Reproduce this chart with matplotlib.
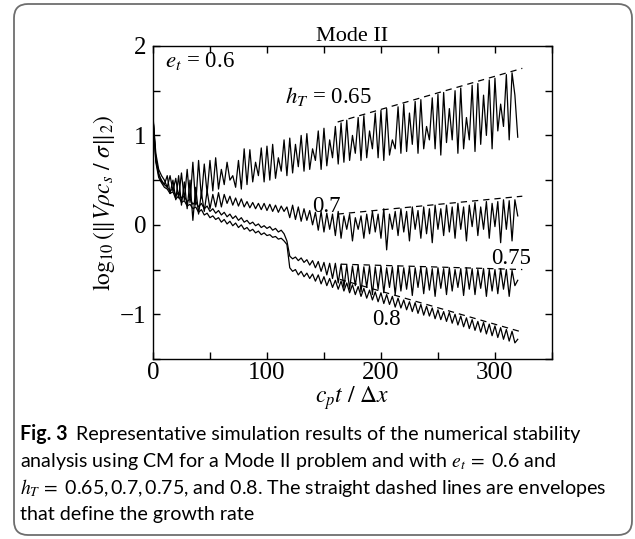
import matplotlib
matplotlib.use('Agg')
import numpy as np
import matplotlib.pyplot as plt
from matplotlib import font_manager
from matplotlib.patches import FancyBboxPatch
from matplotlib.transforms import IdentityTransform

# sample grid along c_p t / dx (every 2.5)
t = np.arange(0, 320.1, 2.5)

# log10 norm, values, one row = 20 units of c_p t/dx
h065 = [1.22, 0.80, 0.62, 0.55, 0.50, 0.42, 0.55, 0.38,
        0.52, 0.30, 0.58, 0.28, 0.62, 0.25, 0.70, 0.22,
        0.72, 0.30, 0.68, 0.35, 0.72, 0.38, 0.75, 0.40,
        0.62, 0.45, 0.70, 0.50, 0.55, 0.42, 0.72, 0.40,
        0.85, 0.45, 0.84, 0.48, 0.70, 0.55, 0.86, 0.48,
        0.88, 0.50, 0.90, 0.52, 0.75, 0.60, 0.95, 0.55,
        0.97, 0.58, 0.90, 0.65, 1.00, 0.60, 1.02, 0.62,
        0.85, 0.72, 1.05, 0.62, 1.08, 0.66, 0.95, 0.75,
        1.10, 0.68, 1.14, 0.70, 1.17, 0.72, 1.00, 0.80,
        1.20, 0.72, 1.22, 0.75, 1.05, 0.85, 1.25, 0.75,
        1.28, 0.72, 1.30, 0.78, 0.95, 0.85, 1.32, 0.80,
        1.35, 0.82, 1.25, 0.90, 1.38, 0.80, 1.40, 0.85,
        1.10, 0.95, 1.42, 0.85, 1.46, 0.78, 1.48, 0.92,
        1.30, 0.95, 1.50, 0.80, 1.53, 0.85, 1.20, 0.95,
        1.56, 0.82, 1.58, 0.90, 1.45, 1.00, 1.62, 0.85,
        1.64, 1.05, 1.35, 1.10, 1.68, 0.95, 1.70, 1.45,
        0.98]

h070 = [1.20, 0.75, 0.58, 0.48, 0.45, 0.55, 0.35, 0.50,
        0.28, 0.55, 0.22, 0.48, 0.18, 0.50, 0.05, 0.42,
        0.12, 0.36, 0.15, 0.38, 0.18, 0.34, 0.20, 0.36,
        0.20, 0.34, 0.24, 0.32, 0.22, 0.30, 0.21, 0.29,
        0.20, 0.26, 0.19, 0.25, 0.18, 0.24, 0.17, 0.24,
        0.16, 0.23, 0.15, 0.22, 0.14, 0.21, 0.15, 0.20,
        0.08, 0.22, 0.06, 0.20, 0.04, 0.18, 0.05, 0.16,
        0.00, 0.14, -0.06, 0.15, -0.08, 0.13, -0.05, 0.12,
        -0.12, 0.15, -0.15, 0.10, -0.05, 0.12, -0.18, 0.08,
        -0.05, 0.10, -0.15, 0.12, -0.10, 0.15, -0.08, 0.12,
        -0.15, 0.18, -0.28, 0.12, -0.05, 0.15, -0.12, 0.18,
        -0.08, 0.15, -0.18, 0.20, -0.05, 0.16, -0.15, 0.20,
        -0.10, 0.18, -0.20, 0.22, -0.05, 0.18, -0.12, 0.22,
        -0.08, 0.20, -0.15, 0.24, -0.05, 0.20, -0.18, 0.22,
        -0.02, 0.25, -0.12, 0.20, -0.05, 0.26, -0.15, 0.24,
        -0.02, 0.26, -0.20, 0.28, -0.05, 0.27, -0.18, 0.28,
        0.10]

h075 = [1.20, 0.72, 0.56, 0.50, 0.45, 0.42, 0.38, 0.40,
        0.33, 0.36, 0.30, 0.32, 0.26, 0.29, 0.23, 0.26,
        0.20, 0.24, 0.18, 0.21, 0.15, 0.18, 0.13, 0.16,
        0.11, 0.14, 0.09, 0.12, 0.07, 0.10, 0.05, 0.08,
        0.03, 0.05, 0.01, 0.03, -0.01, 0.01, -0.03, -0.01,
        -0.04, -0.02, -0.06, -0.04, -0.08, -0.06, -0.10, -0.18,
        -0.35, -0.38, -0.36, -0.40, -0.37, -0.42, -0.39, -0.45,
        -0.40, -0.48, -0.41, -0.52, -0.42, -0.56, -0.43, -0.60,
        -0.43, -0.65, -0.44, -0.70, -0.45, -0.72, -0.46, -0.68,
        -0.45, -0.75, -0.47, -0.70, -0.46, -0.78, -0.47, -0.72,
        -0.46, -0.76, -0.48, -0.70, -0.47, -0.78, -0.46, -0.74,
        -0.48, -0.72, -0.47, -0.79, -0.48, -0.70, -0.47, -0.77,
        -0.48, -0.73, -0.49, -0.80, -0.48, -0.71, -0.49, -0.78,
        -0.48, -0.74, -0.50, -0.70, -0.49, -0.79, -0.48, -0.72,
        -0.49, -0.78, -0.50, -0.71, -0.49, -0.80, -0.50, -0.74,
        -0.50, -0.77, -0.49, -0.72, -0.50, -0.80, -0.51, -0.68,
        -0.62]

h080 = [1.20, 0.70, 0.53, 0.47, 0.42, 0.40, 0.35, 0.37,
        0.29, 0.32, 0.25, 0.27, 0.21, 0.23, 0.18, 0.20,
        0.14, 0.17, 0.11, 0.13, 0.08, 0.10, 0.06, 0.08,
        0.03, 0.06, 0.01, 0.04, -0.01, 0.02, -0.03, 0.00,
        -0.05, -0.03, -0.07, -0.05, -0.09, -0.07, -0.11, -0.09,
        -0.12, -0.11, -0.14, -0.13, -0.16, -0.15, -0.18, -0.22,
        -0.48, -0.52, -0.50, -0.56, -0.52, -0.58, -0.54, -0.60,
        -0.55, -0.63, -0.56, -0.66, -0.58, -0.68, -0.60, -0.70,
        -0.62, -0.72, -0.63, -0.74, -0.65, -0.76, -0.67, -0.78,
        -0.69, -0.80, -0.71, -0.82, -0.73, -0.84, -0.75, -0.86,
        -0.76, -0.88, -0.78, -0.89, -0.80, -0.92, -0.82, -0.93,
        -0.84, -0.95, -0.86, -0.97, -0.87, -0.99, -0.89, -1.01,
        -0.91, -1.02, -0.93, -1.05, -0.95, -1.06, -0.97, -1.08,
        -0.98, -1.10, -1.00, -1.12, -1.02, -1.14, -1.04, -1.16,
        -1.06, -1.18, -1.08, -1.20, -1.09, -1.22, -1.11, -1.24,
        -1.13, -1.26, -1.15, -1.28, -1.17, -1.30, -1.19, -1.32,
        -1.28]

# dashed envelopes (start/end points)
env_x = [[162, 324], [162, 324], [165, 324], [164, 324]]
env_y = [[1.15, 1.75], [0.12, 0.32], [-0.44, -0.50], [-0.61, -1.20]]

plt.rcParams['font.family'] = ['Liberation Serif', 'DejaVu Serif']
plt.rcParams['mathtext.fontset'] = 'stix'

fig = plt.figure(figsize=(6.35, 5.39), dpi=100)

# rounded frame around figure + caption
fig.patches.append(FancyBboxPatch((14, 4), 618, 531,
                                  boxstyle='round,pad=0,rounding_size=14',
                                  transform=IdentityTransform(),
                                  facecolor='none', edgecolor='#6e6e6e', lw=1.3))

ax = fig.add_axes([0.2409, 0.3340, 0.6283, 0.5807])
for series in (h065, h070, h075, h080):
    ax.plot(t, series, color='black', lw=0.9)
for xs, ys in zip(env_x, env_y):
    ax.plot(xs, ys, color='black', lw=0.9, dashes=(5, 4))

ax.set_xlim(0, 350)
ax.set_ylim(-1.5, 2)
ax.set_xticks([0, 100, 200, 300])
ax.set_xticks([50, 150, 250, 350], minor=True)
ax.set_yticks([-1, 0, 1, 2])
ax.set_yticks([-1.5, -0.5, 0.5, 1.5], minor=True)
ax.tick_params(which='both', direction='in', top=True, right=True,
               length=5, width=1.0)
ax.tick_params(axis='both', labelsize=18)
ax.tick_params(axis='x', pad=2)
ax.tick_params(axis='y', pad=5)
for sp in ax.spines.values():
    sp.set_linewidth(1.0)

ax.set_title('Mode II', fontsize=16, pad=3)
ax.set_xlabel(r'$c_p t\ /\ \Delta x$', fontsize=17, labelpad=0)
ax.set_ylabel(r'$\log_{10}(\|V\rho c_s\ /\ \sigma\|_2)$', fontsize=17, labelpad=2)

ax.text(10.5, 1.83, r'$e_t$ = 0.6', fontsize=16.5, va='center')
ax.text(116, 1.44, r'$h_T$ = 0.65', fontsize=16.5, va='center')
ax.text(139.5, 0.21, '0.7', fontsize=16.5, va='center')
ax.text(297, -0.38, '0.75', fontsize=16.5, va='center')
ax.text(192, -1.06, '0.8', fontsize=16.5, va='center')

# caption
names = {f.name for f in font_manager.fontManager.ttflist}
cap_font = 'Liberation Sans Narrow' if 'Liberation Sans Narrow' in names else 'Lato'
cap_size = 14.1
fig.canvas.draw()
renderer = fig.canvas.get_renderer()
x0 = 20 / 635
fig_lab = fig.text(x0, 1 - 440 / 539, 'Fig. 3', family=cap_font, fontsize=cap_size,
                   weight='bold', va='baseline')
bb = fig_lab.get_window_extent(renderer)
fig.text((bb.x1 + 9) / 635, 1 - 440 / 539,
         'Representative simulation results of the numerical stability',
         family=cap_font, fontsize=cap_size, va='baseline')
fig.text(x0, 1 - 467 / 539,
         r'analysis using CM for a Mode II problem and with $e_t\,=$ 0.6 and',
         family=cap_font, fontsize=cap_size, va='baseline')
fig.text(x0, 1 - 494 / 539,
         r'$h_T\,=$ 0.65,$\,$0.7,$\,$0.75, and 0.8. The straight dashed lines are envelopes',
         family=cap_font, fontsize=cap_size, va='baseline')
fig.text(x0, 1 - 520 / 539, 'that define the growth rate',
         family=cap_font, fontsize=cap_size, va='baseline')

fig.savefig('out.png', dpi=100)
